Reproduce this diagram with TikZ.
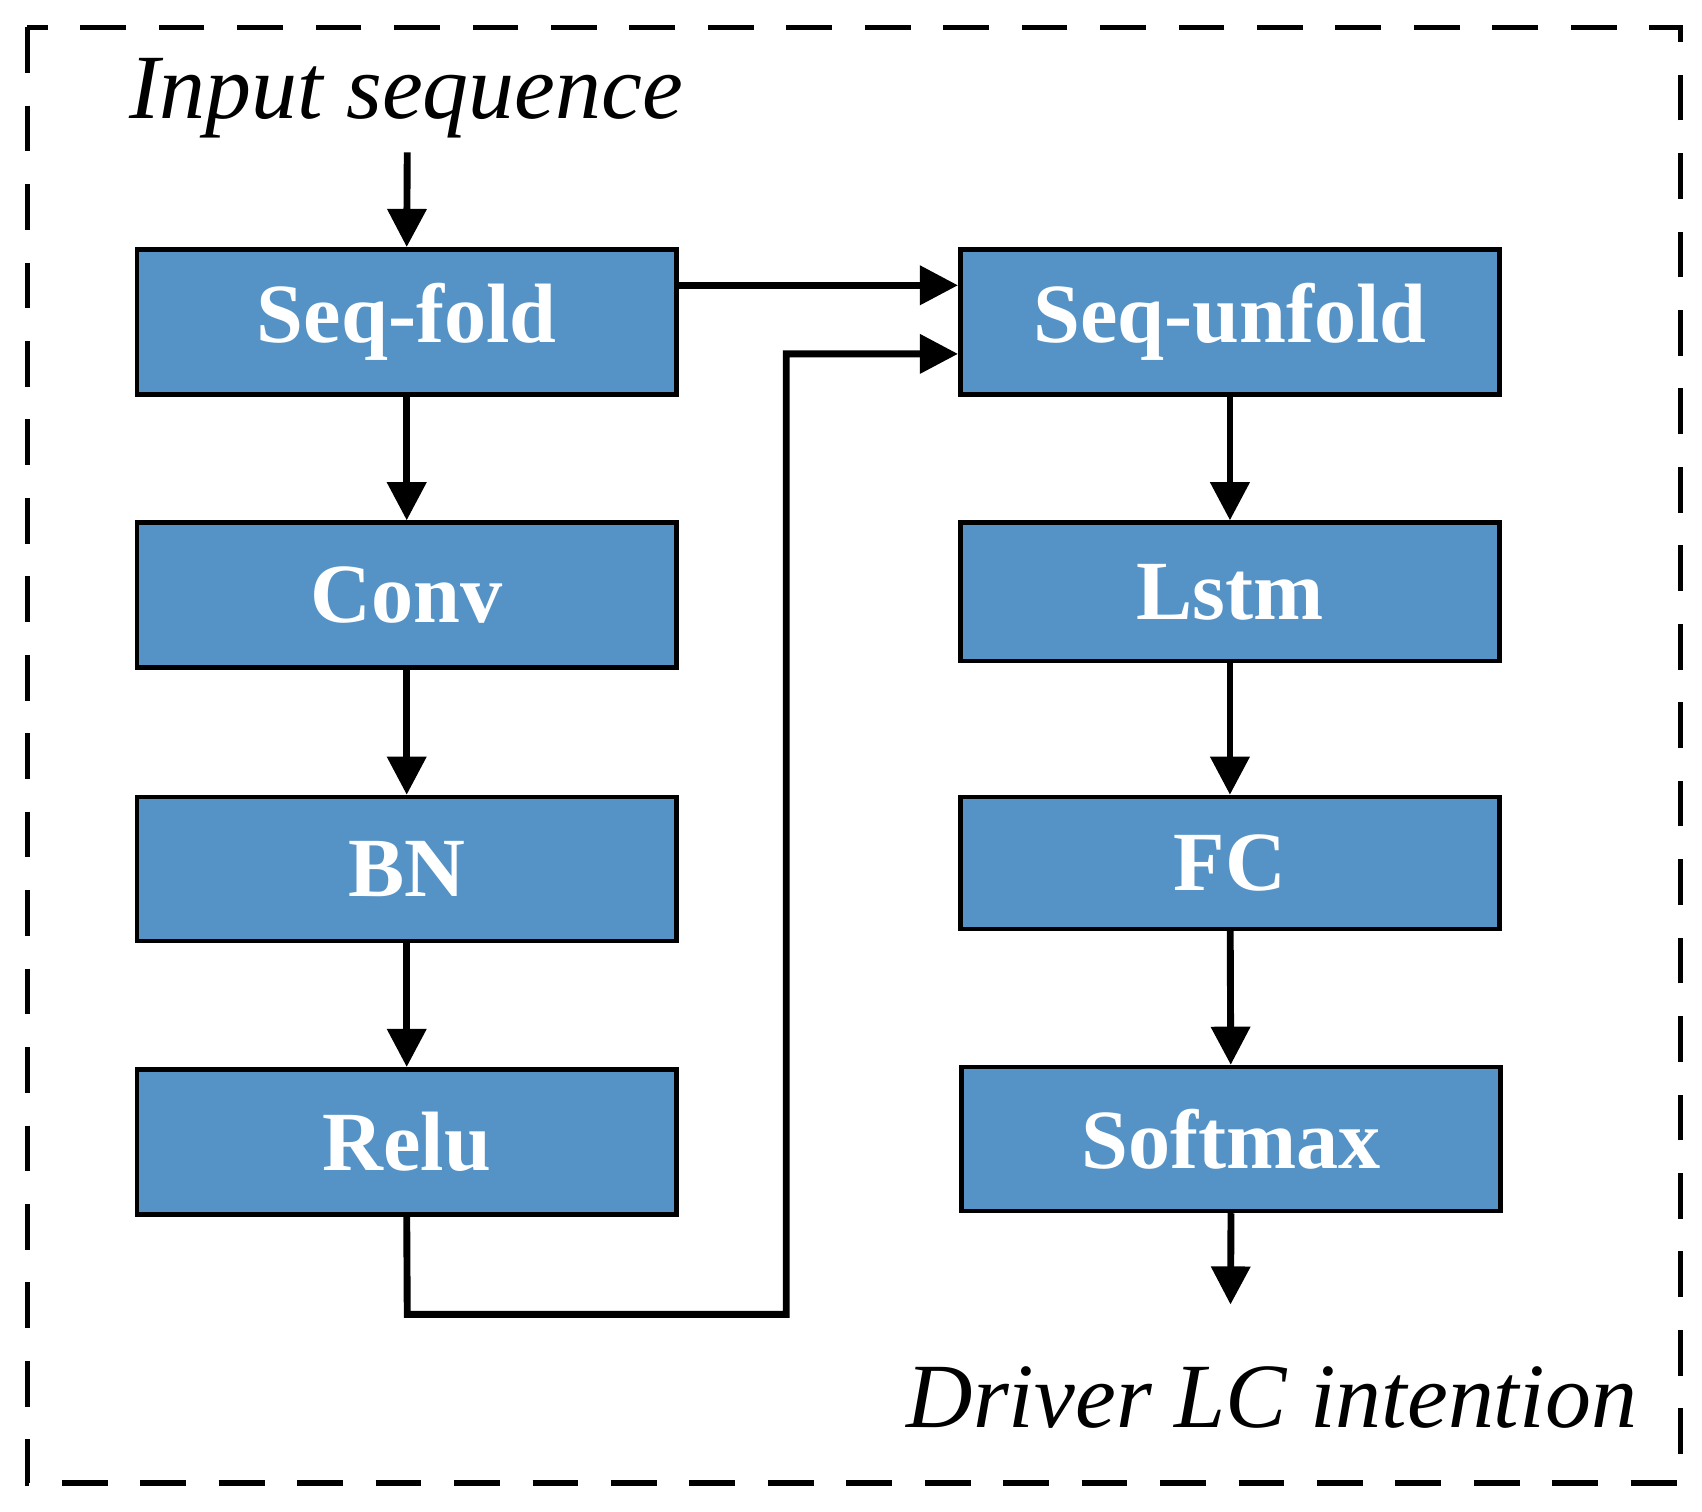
\documentclass[tikz,border=0pt]{standalone}
\usepackage{fontspec}
\setmainfont{Liberation Serif}
\usetikzlibrary{arrows.meta}
\definecolor{boxblue}{HTML}{5593C7}
\begin{document}
\begin{tikzpicture}[x=0.01cm,y=-0.01cm,
  blk/.style={draw=black,line width=1.2pt,fill=boxblue,minimum width=4.95cm,minimum height=1.3cm,inner sep=0pt,text=white,font=\fontsize{22}{26}\selectfont\bfseries},
  conn/.style={line width=1.8pt,-{Triangle[length=0.35cm,width=0.35cm]}},
  lbl/.style={font=\fontsize{24}{28}\selectfont\itshape}]
\useasboundingbox (0,0) rectangle (1563,1388);
\draw[line width=1.4pt,dash pattern=on 0.42cm off 0.3cm] (25,25) rectangle (1543,1362);
\node[blk,minimum height=1.33cm] (sf) at (373.5,295.5) {Seq-fold};
\node[blk,minimum height=1.33cm] (cv) at (373.5,546.5) {Conv};
\node[blk,minimum height=1.32cm] (bn) at (373.5,798) {BN};
\node[blk,minimum height=1.33cm] (re) at (373.5,1048.5) {Relu};
\node[blk,minimum height=1.33cm] (su) at (1129.5,295.5) {Seq-unfold};
\node[blk,minimum height=1.27cm] (ls) at (1129.5,543.5) {Lstm};
\node[blk,minimum height=1.21cm] (fc) at (1129.5,792.5) {FC};
\node[blk,minimum height=1.32cm] (sm) at (1130.5,1046) {Softmax};
\node[lbl] (in) at (373,90) {Input sequence};
\node[lbl] (out) at (1168,1283) {Driver LC intention};
\coordinate (a0) at (374,140);
\coordinate (e) at (1130,1198);
\coordinate (r1) at (374,1207);
\coordinate (r2) at (722,1207);
\coordinate (r3) at (722,325);
\draw[conn] (a0) -- (sf.north);
\draw[conn] (sf) -- (cv);
\draw[conn] (cv) -- (bn);
\draw[conn] (bn) -- (re);
\draw[conn] (su) -- (ls);
\draw[conn] (ls) -- (fc);
\draw[conn] (fc) -- (sm);
\draw[conn] (sm.south) -- (e);
\draw[conn] (sf.east |- 0,262) -- (su.west |- 0,262);
\draw[conn,line join=miter] (re.south) -- (r1) -- (r2) -- (r3) -- (su.west |- r3);
\end{tikzpicture}
\end{document}
